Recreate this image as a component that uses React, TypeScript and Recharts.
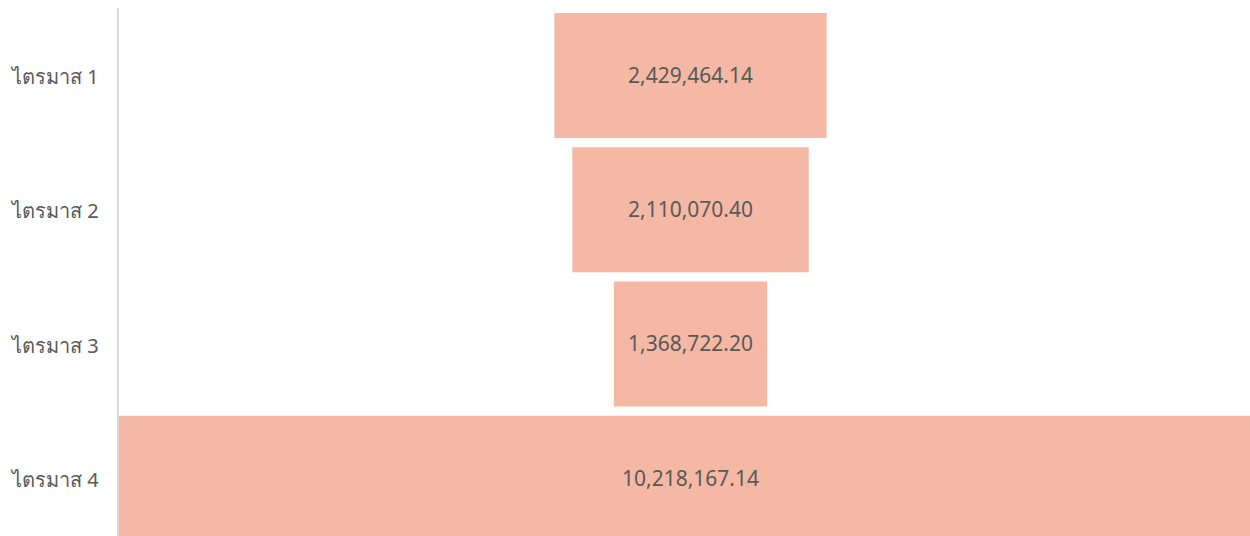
import { BarChart, Bar, XAxis, YAxis, LabelList } from "recharts";

const quarters = ["ไตรมาส 1", "ไตรมาส 2", "ไตรมาส 3", "ไตรมาส 4"];
const amounts = [2429464.14, 2110070.4, 1368722.2, 10218167.14];

const maxAmount = Math.max(...amounts);

// funnel: an invisible spacer bar pushes each value bar to the centre
const data = quarters.map((q, i) => ({
  quarter: q,
  spacer: (maxAmount - amounts[i]) / 2,
  amount: amounts[i],
}));

const fmt = (v: number) =>
  Number(v).toLocaleString("en-US", { minimumFractionDigits: 2, maximumFractionDigits: 2 });

function QuarterTick({ y, payload }: { y?: number; payload?: { value: string } }) {
  return (
    <text x={12} y={y} dy={9} textAnchor="start" fontSize={20} fill="#595959">
      {payload?.value}
    </text>
  );
}

export default function App() {
  return (
    <div
      style={{
        position: "absolute",
        left: 0,
        top: 0,
        width: 1250,
        height: 536,
        overflow: "hidden",
        background: "#fff",
        fontFamily: "'Noto Sans', 'DejaVu Sans', sans-serif",
      }}
    >
      <BarChart
        width={1263}
        height={545}
        data={data}
        layout="vertical"
        margin={{ top: 8, right: 0, bottom: 0, left: 0 }}
        barSize={125}
      >
        <XAxis type="number" domain={[0, maxAmount]} hide />
        <YAxis
          type="category"
          dataKey="quarter"
          width={118}
          axisLine={{ stroke: "#d9d9d9", strokeWidth: 2 }}
          tickLine={false}
          tick={<QuarterTick />}
        />
        <Bar dataKey="spacer" stackId="f" fill="transparent" isAnimationActive={false} />
        <Bar dataKey="amount" stackId="f" fill="#f4b8a4" isAnimationActive={false}>
          <LabelList
            dataKey="amount"
            position="center"
            formatter={(v: any) => fmt(v)}
            style={{ fontSize: 21, fill: "#595959" }}
          />
        </Bar>
      </BarChart>
    </div>
  );
}
